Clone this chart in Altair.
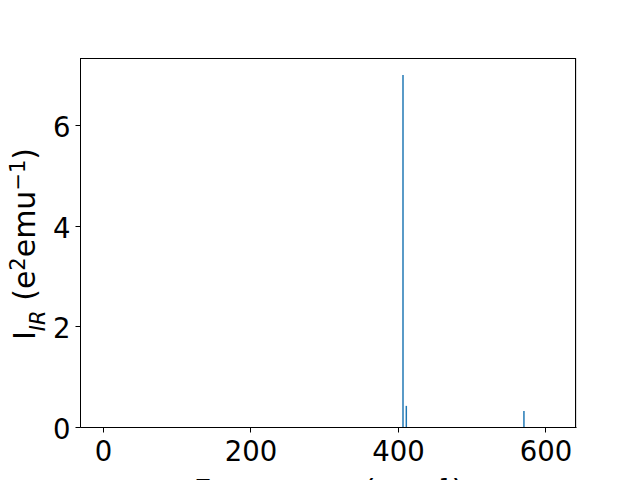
import altair as alt
import pandas as pd

# IR spectrum data
freqs = [406.8, 411.3, 570.8]
intens = [7.0, 0.42, 0.32]
bar_half_width = 1.0

x_ticks = [0, 200, 400, 600]
y_ticks = [0, 2, 4, 6]

df = pd.DataFrame({
    "freq": freqs,
    "lo": [f - bar_half_width for f in freqs],
    "hi": [f + bar_half_width for f in freqs],
    "I": intens,
})

FONT = "DejaVu Sans"
W, H = 496, 369
BIG = 30
SMALL = 21

bars = alt.Chart(df).mark_bar(color="#1f77b4").encode(
    x=alt.X("lo:Q",
            scale=alt.Scale(domain=[-31.2, 641.4], nice=False, zero=False),
            axis=alt.Axis(values=x_ticks, title="Frequency (cm⁻¹)", grid=False,
                          labelFontSize=27.5, labelFont=FONT, labelColor="black",
                          labelBaseline="alphabetic", labelPadding=28,
                          tickSize=5, tickColor="black", domainColor="black",
                          titleFont=FONT, titleFontSize=31, titleFontWeight="normal",
                          titleColor="black", titleBaseline="alphabetic",
                          titleY=73, labelFlush=False)),
    x2="hi:Q",
    y=alt.Y("I:Q",
            scale=alt.Scale(domain=[0, 7.336], nice=False),
            axis=alt.Axis(values=y_ticks, title=None, grid=False,
                          labelFontSize=27.5, labelFont=FONT, labelColor="black",
                          labelBaseline="alphabetic", labelOffset=11.5,
                          labelPadding=5, tickSize=5, tickColor="black",
                          domainColor="black", labelFlush=False)),
    y2=alt.datum(0),
)

# frame: top and right edges (left/bottom are the axis lines)
frame_top = alt.Chart(pd.DataFrame({"k": [0]})).mark_rule(color="black", strokeWidth=1).encode(
    x=alt.value(0), x2=alt.value(W), y=alt.value(0.5))
frame_right = alt.Chart(pd.DataFrame({"k": [0]})).mark_rule(color="black", strokeWidth=1).encode(
    x=alt.value(W - 0.5), y=alt.value(0), y2=alt.value(H))

# y title pieces (rotated, reading upward): text, size, style, baseline shift, extra gap before
pieces = [
    ("I", BIG, "normal", 0, 0),
    ("IR", SMALL, "italic", 10, 0),
    ("(e", BIG, "normal", 0, 0.318 * BIG),
    ("2", SMALL, "normal", -10, 0),
    ("emu", BIG, "normal", 0, 0),
    ("−1", SMALL, "normal", -10, 0),
    (")", BIG, "normal", 0, 0),
]
adv = {"I": 0.295, "R": 0.695, "(": 0.390, ")": 0.390, "e": 0.615,
       "m": 0.974, "u": 0.634, "2": 0.636, "−": 0.838, "1": 0.636}
base_x = -45
cur_y = 282
layers = [bars, frame_top, frame_right]
for txt, size, style, dx, gap in pieces:
    cur_y -= gap
    layers.append(
        alt.Chart(pd.DataFrame({"t": [txt]})).mark_text(
            angle=270, align="left", baseline="alphabetic", font=FONT,
            fontSize=size, fontStyle=style, color="black"
        ).encode(x=alt.value(base_x + dx), y=alt.value(cur_y), text="t:N")
    )
    cur_y -= sum(adv.get(c, 0.6) for c in txt) * size

chart = alt.layer(*layers).properties(
    width=W, height=H,
    autosize=alt.AutoSizeParams(type="none"),
    padding={"left": 72, "top": 50, "right": 56, "bottom": 80},
).configure_view(stroke=None).configure(background="white")

chart.save("out.html", embed_options={"renderer": "svg", "actions": False})
